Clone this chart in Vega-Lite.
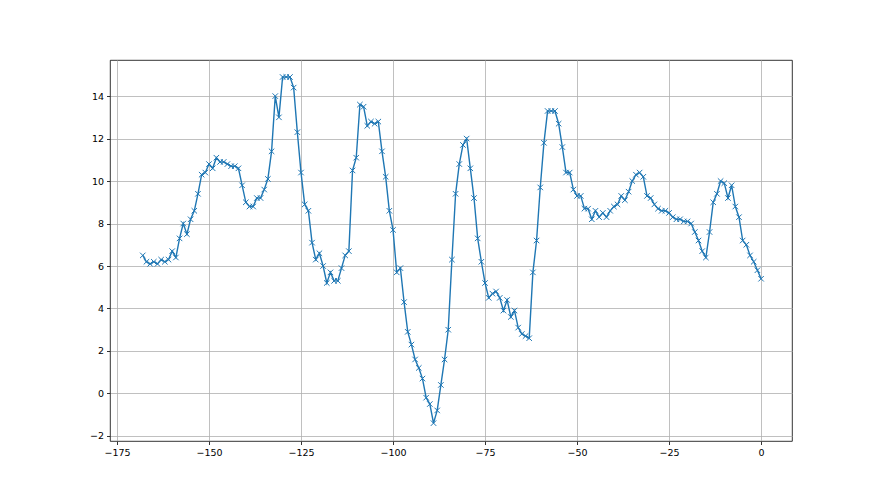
{
  "$schema": "https://vega.github.io/schema/vega-lite/v6.json",
  "width": 682,
  "height": 381,
  "autosize": {"type": "none"},
  "padding": {"left": 110, "top": 60, "right": 88, "bottom": 54},
  "background": "white",
  "config": {
    "view": {"stroke": "black", "strokeWidth": 0.8},
    "axis": {
      "grid": true,
      "gridColor": "#b0b0b0",
      "gridWidth": 0.8,
      "domain": false,
      "ticks": true,
      "tickColor": "black",
      "tickSize": 3.5,
      "tickWidth": 0.8,
      "labelFont": "DejaVu Sans",
      "labelFontSize": 9.5,
      "labelColor": "black",
      "labelPadding": 3,
      "title": null
    }
  },
  "data": {"values": [
    {"x": -168, "y": 6.5}, {"x": -167, "y": 6.2}, {"x": -166, "y": 6.1}, {"x": -165, "y": 6.2},
    {"x": -164, "y": 6.1}, {"x": -163, "y": 6.3}, {"x": -162, "y": 6.2}, {"x": -161, "y": 6.3},
    {"x": -160, "y": 6.7}, {"x": -159, "y": 6.4}, {"x": -158, "y": 7.3}, {"x": -157, "y": 8.0},
    {"x": -156, "y": 7.5}, {"x": -155, "y": 8.2}, {"x": -154, "y": 8.6}, {"x": -153, "y": 9.4},
    {"x": -152, "y": 10.3}, {"x": -151, "y": 10.4}, {"x": -150, "y": 10.8}, {"x": -149, "y": 10.6},
    {"x": -148, "y": 11.1}, {"x": -147, "y": 10.9}, {"x": -146, "y": 10.9}, {"x": -145, "y": 10.8},
    {"x": -144, "y": 10.7}, {"x": -143, "y": 10.7}, {"x": -142, "y": 10.6}, {"x": -141, "y": 9.8},
    {"x": -140, "y": 9.0}, {"x": -139, "y": 8.8}, {"x": -138, "y": 8.8}, {"x": -137, "y": 9.2},
    {"x": -136, "y": 9.2}, {"x": -135, "y": 9.6}, {"x": -134, "y": 10.1}, {"x": -133, "y": 11.4},
    {"x": -132, "y": 14.0}, {"x": -131, "y": 13.0}, {"x": -130, "y": 14.9}, {"x": -129, "y": 14.9},
    {"x": -128, "y": 14.9}, {"x": -127, "y": 14.4}, {"x": -126, "y": 12.3}, {"x": -125, "y": 10.4},
    {"x": -124, "y": 8.9}, {"x": -123, "y": 8.6}, {"x": -122, "y": 7.1}, {"x": -121, "y": 6.3},
    {"x": -120, "y": 6.6}, {"x": -119, "y": 6.0}, {"x": -118, "y": 5.2}, {"x": -117, "y": 5.7},
    {"x": -116, "y": 5.3}, {"x": -115, "y": 5.3}, {"x": -114, "y": 5.9}, {"x": -113, "y": 6.5},
    {"x": -112, "y": 6.7}, {"x": -111, "y": 10.5}, {"x": -110, "y": 11.1}, {"x": -109, "y": 13.6},
    {"x": -108, "y": 13.5}, {"x": -107, "y": 12.6}, {"x": -106, "y": 12.8}, {"x": -105, "y": 12.7},
    {"x": -104, "y": 12.8}, {"x": -103, "y": 11.4}, {"x": -102, "y": 10.2}, {"x": -101, "y": 8.6},
    {"x": -100, "y": 7.7}, {"x": -99, "y": 5.7}, {"x": -98, "y": 5.9}, {"x": -97, "y": 4.3},
    {"x": -96, "y": 2.9}, {"x": -95, "y": 2.3}, {"x": -94, "y": 1.6}, {"x": -93, "y": 1.2},
    {"x": -92, "y": 0.7}, {"x": -91, "y": -0.2}, {"x": -90, "y": -0.5}, {"x": -89, "y": -1.4},
    {"x": -88, "y": -0.8}, {"x": -87, "y": 0.4}, {"x": -86, "y": 1.6}, {"x": -85, "y": 3.0},
    {"x": -84, "y": 6.3}, {"x": -83, "y": 9.4}, {"x": -82, "y": 10.8}, {"x": -81, "y": 11.7},
    {"x": -80, "y": 12.0}, {"x": -79, "y": 10.6}, {"x": -78, "y": 9.2}, {"x": -77, "y": 7.3},
    {"x": -76, "y": 6.2}, {"x": -75, "y": 5.2}, {"x": -74, "y": 4.5}, {"x": -73, "y": 4.7},
    {"x": -72, "y": 4.8}, {"x": -71, "y": 4.5}, {"x": -70, "y": 3.9}, {"x": -69, "y": 4.4},
    {"x": -68, "y": 3.6}, {"x": -67, "y": 3.9}, {"x": -66, "y": 3.1}, {"x": -65, "y": 2.8},
    {"x": -64, "y": 2.7}, {"x": -63, "y": 2.6}, {"x": -62, "y": 5.7}, {"x": -61, "y": 7.2},
    {"x": -60, "y": 9.7}, {"x": -59, "y": 11.8}, {"x": -58, "y": 13.3}, {"x": -57, "y": 13.3},
    {"x": -56, "y": 13.3}, {"x": -55, "y": 12.7}, {"x": -54, "y": 11.6}, {"x": -53, "y": 10.4},
    {"x": -52, "y": 10.4}, {"x": -51, "y": 9.6}, {"x": -50, "y": 9.3}, {"x": -49, "y": 9.3},
    {"x": -48, "y": 8.7}, {"x": -47, "y": 8.7}, {"x": -46, "y": 8.2}, {"x": -45, "y": 8.6},
    {"x": -44, "y": 8.3}, {"x": -43, "y": 8.5}, {"x": -42, "y": 8.3}, {"x": -41, "y": 8.6},
    {"x": -40, "y": 8.8}, {"x": -39, "y": 8.9}, {"x": -38, "y": 9.3}, {"x": -37, "y": 9.1},
    {"x": -36, "y": 9.5}, {"x": -35, "y": 10.0}, {"x": -34, "y": 10.3}, {"x": -33, "y": 10.4},
    {"x": -32, "y": 10.2}, {"x": -31, "y": 9.3}, {"x": -30, "y": 9.2}, {"x": -29, "y": 8.9},
    {"x": -28, "y": 8.7}, {"x": -27, "y": 8.6}, {"x": -26, "y": 8.6}, {"x": -25, "y": 8.5},
    {"x": -24, "y": 8.3}, {"x": -23, "y": 8.2}, {"x": -22, "y": 8.2}, {"x": -21, "y": 8.1},
    {"x": -20, "y": 8.1}, {"x": -19, "y": 8.0}, {"x": -18, "y": 7.6}, {"x": -17, "y": 7.2},
    {"x": -16, "y": 6.7}, {"x": -15, "y": 6.4}, {"x": -14, "y": 7.6}, {"x": -13, "y": 9.0},
    {"x": -12, "y": 9.4}, {"x": -11, "y": 10.0}, {"x": -10, "y": 9.9}, {"x": -9, "y": 9.2},
    {"x": -8, "y": 9.8}, {"x": -7, "y": 8.8}, {"x": -6, "y": 8.3}, {"x": -5, "y": 7.2},
    {"x": -4, "y": 7.0}, {"x": -3, "y": 6.5}, {"x": -2, "y": 6.2}, {"x": -1, "y": 5.8},
    {"x": 0, "y": 5.4}
  ]},
  "encoding": {
    "x": {
      "field": "x", "type": "quantitative",
      "scale": {"domain": [-176.9, 8.4], "nice": false, "zero": false},
      "axis": {"values": [-175, -150, -125, -100, -75, -50, -25, 0]}
    },
    "y": {
      "field": "y", "type": "quantitative",
      "scale": {"domain": [-2.24, 15.7], "nice": false, "zero": false},
      "axis": {"values": [-2, 0, 2, 4, 6, 8, 10, 12, 14]}
    }
  },
  "layer": [
    {"mark": {"type": "line", "color": "#1f77b4", "strokeWidth": 1.4}},
    {"mark": {"type": "point", "shape": "M-1,-1L1,1M-1,1L1,-1", "filled": false, "color": "#1f77b4", "strokeWidth": 1, "size": 30, "opacity": 1}}
  ]
}
